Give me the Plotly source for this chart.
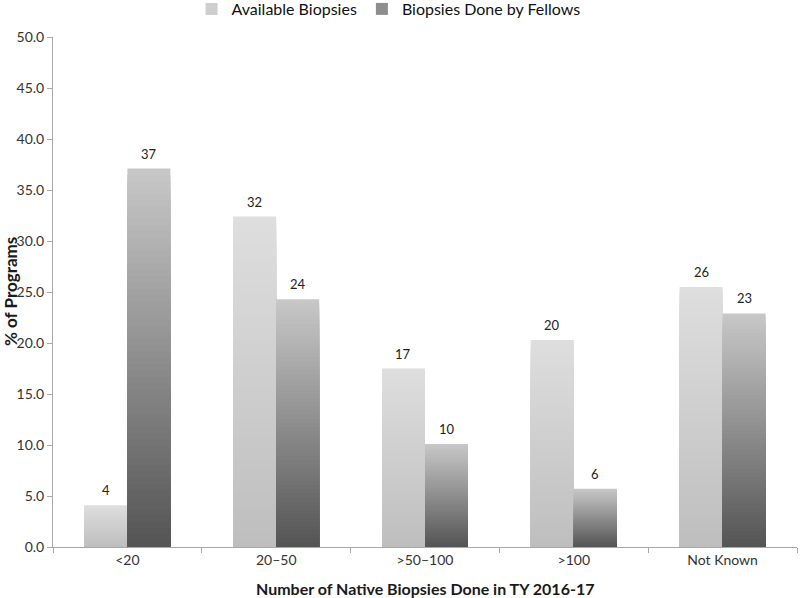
import plotly.graph_objects as go

categories = ["<20", "20–50", ">50–100", ">100", "Not Known"]
available = [4.1, 32.4, 17.5, 20.3, 25.5]
fellows = [37.1, 24.3, 10.1, 5.7, 22.9]
available_labels = ["4", "32", "17", "20", "26"]
fellows_labels = ["37", "24", "10", "6", "23"]
series_names = ["Available Biopsies", "Biopsies Done by Fellows"]
y_ticks = [0, 5, 10, 15, 20, 25, 30, 35, 40, 45, 50]

FONT = "Lato"
N = 60
BAR_W = 0.289

# (top colour, bottom colour) for each series gradient
grads = [((222, 222, 222), (190, 190, 190)), ((200, 200, 200), (84, 84, 84))]
offsets = [-BAR_W, 0.0]


def mix(c_top, c_bot, t):  # t=0 bottom, t=1 top
    return "rgb(%d,%d,%d)" % tuple(round(b + (a - b) * t) for a, b in zip(c_top, c_bot))


fig = go.Figure()
# Gradient: overlapping bars from the base, tallest first, each shorter one on top
for vals, (ctop, cbot), off in zip([available, fellows], grads, offsets):
    for k in range(N - 1, -1, -1):
        col = mix(ctop, cbot, (k + 0.5) / N)
        fig.add_trace(go.Bar(
            x=categories,
            y=[v * (k + 1) / N for v in vals],
            offset=off, width=BAR_W,
            marker=dict(color=col, line=dict(width=0)),
            showlegend=False, hoverinfo="skip",
        ))

# legend entries
for name, (ctop, cbot) in zip(series_names, grads):
    fig.add_trace(go.Bar(x=[None], y=[None], name=name,
                         marker=dict(color=mix(ctop, cbot, 0.5), line=dict(width=0))))

annotations = []
for vals, labs, off in zip([available, fellows], [available_labels, fellows_labels], offsets):
    for c, v, lab in zip(categories, vals, labs):
        annotations.append(dict(
            x=c, y=v, text=lab, showarrow=False, xref="x", yref="y",
            xshift=(off + BAR_W / 2) * 149, yshift=5, yanchor="bottom",
            font=dict(family=FONT, size=13, color="#222222"),
        ))

annotations.append(dict(
    text="<b>% of Programs</b>", x=-43 / 744, xref="x domain", xanchor="center",
    y=0.5, yref="paper", yanchor="middle", textangle=-90, showarrow=False,
    font=dict(family=FONT, size=17, color="#1a1a1a"),
))

annotations.append(dict(
    text="<b>Number of Native Biopsies Done in TY 2016-17</b>",
    x=0.5, xref="paper", xanchor="center", y=-41 / 510, yref="paper",
    yanchor="middle", showarrow=False,
    font=dict(family=FONT, size=16, color="#1a1a1a"),
))

fig.update_layout(
    width=800, height=598,
    margin=dict(l=53, r=3, t=37, b=51, autoexpand=False),
    paper_bgcolor="white", plot_bgcolor="white",
    barmode="overlay",
    font=dict(family=FONT, size=14, color="#333333"),
    showlegend=True,
    legend=dict(orientation="h", x=0.451, xanchor="center", y=1 + 28 / 510, yref="paper",
                yanchor="middle", font=dict(family=FONT, size=16, color="#111111"),
                itemwidth=30, tracegroupgap=0),
    annotations=annotations,
    xaxis=dict(
        type="category", categoryorder="array", categoryarray=categories,
        showline=True, linecolor="#a8a8a8", linewidth=1,
        ticks="outside", tickson="boundaries", ticklen=5, tickcolor="#a8a8a8",
        tickfont=dict(family=FONT, size=14, color="#333333"),
        showgrid=False, zeroline=False, range=[-0.5, 4.5], automargin=False,
    ),
    yaxis=dict(
        range=[0, 50], tickvals=y_ticks, tickformat=".1f",
        showline=True, linecolor="#a8a8a8", linewidth=1,
        ticks="outside", ticklen=5, tickcolor="#a8a8a8",
        tickfont=dict(family=FONT, size=14, color="#333333"),
        showgrid=False, zeroline=False, automargin=False,
    ),
)

fig.write_html("out.html", config={"displayModeBar": False},
               post_script="document.body.style.margin='0';")
